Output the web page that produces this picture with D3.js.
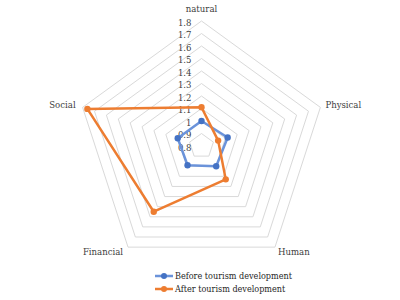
<!DOCTYPE html>
<html>
<head>
<meta charset="utf-8">
<script src="https://cdn.jsdelivr.net/npm/d3@7"></script>
<style>
  body { margin: 0; background: #fff; }
</style>
</head>
<body>
<svg id="chart" width="400" height="300"></svg>
<script>
// chart data
var axes = ["natural", "Physical", "Human", "Financial", "Social"];
var before = [1.0, 1.02, 1.0, 0.99, 1.0];
var after = [1.11, 0.94, 1.13, 1.45, 1.76];
var ticks = [0.8, 0.9, 1, 1.1, 1.2, 1.3, 1.4, 1.5, 1.6, 1.7, 1.8];
var seriesNames = ["Before tourism development", "After tourism development"];

var FONT = "'DejaVu Serif Condensed', 'DejaVu Serif'";
var cx = 201.5, cy = 146, R = 125;
var svg = d3.select("#chart")
    .attr("font-family", FONT);

var r = d3.scaleLinear().domain([0.8, 1.8]).range([0, R]);
var angle = d3.scalePoint().domain(axes.concat(["_end"])).range([0, 2 * Math.PI]);

function pt(axis, v) {
    var a = angle(axis);
    return [cx + r(v) * Math.sin(a), cy - r(v) * Math.cos(a)];
}

var g = svg.append("g");

// grid rings
g.selectAll(".ring")
    .data(ticks.slice(1))
    .enter().append("path")
    .attr("class", "ring")
    .attr("fill", "none")
    .attr("stroke", "#d9d9d9")
    .attr("stroke-width", 1)
    .attr("d", function (t) {
        return d3.line()(axes.map(function (a) { return pt(a, t); })) + "Z";
    });

// tick labels
g.selectAll(".tick")
    .data(ticks)
    .enter().append("text")
    .attr("x", cx - 10)
    .attr("y", function (t) { return cy - r(t) + 2; })
    .attr("text-anchor", "end")
    .attr("dominant-baseline", "middle")
    .attr("font-size", "9.5px")
    .attr("fill", "#404040")
    .text(function (t) { return t; });

// category labels
var labelPos = {
    "natural": { dx: 0, dy: -12, anchor: "middle" },
    "Physical": { dx: 5, dy: -2, anchor: "start" },
    "Human": { dx: 3, dy: 5, anchor: "start" },
    "Financial": { dx: -5, dy: 5, anchor: "end" },
    "Social": { dx: -7, dy: -2, anchor: "end" }
};
g.selectAll(".cat")
    .data(axes)
    .enter().append("text")
    .attr("x", function (a) { return pt(a, 1.8)[0] + labelPos[a].dx; })
    .attr("y", function (a) { return pt(a, 1.8)[1] + labelPos[a].dy; })
    .attr("text-anchor", function (a) { return labelPos[a].anchor; })
    .attr("dominant-baseline", "middle")
    .attr("font-size", "9.5px")
    .attr("fill", "#404040")
    .text(function (a) { return a; });

// series
var series = [
    { name: seriesNames[0], values: before, line: "#6b93da", marker: "#4472C4" },
    { name: seriesNames[1], values: after, line: "#ED7D31", marker: "#ED7D31" }
];

series.forEach(function (s) {
    var pts = axes.map(function (a, i) { return pt(a, s.values[i]); });
    g.append("path")
        .attr("fill", "none")
        .attr("stroke", s.line)
        .attr("stroke-width", 2.5)
        .attr("stroke-linejoin", "round")
        .attr("d", d3.line()(pts) + "Z");
    g.selectAll(null)
        .data(pts)
        .enter().append("circle")
        .attr("cx", function (d) { return d[0]; })
        .attr("cy", function (d) { return d[1]; })
        .attr("r", 3.2)
        .attr("fill", s.marker);
});

// legend
var legend = svg.append("g").attr("transform", "translate(155,276)");
series.forEach(function (s, i) {
    var row = legend.append("g").attr("transform", "translate(0," + (i * 13) + ")");
    row.append("line")
        .attr("x1", 0).attr("x2", 18)
        .attr("y1", 0).attr("y2", 0)
        .attr("stroke", s.line)
        .attr("stroke-width", 2.5);
    row.append("circle")
        .attr("cx", 9).attr("cy", 0).attr("r", 3)
        .attr("fill", s.marker);
    row.append("text")
        .attr("x", 20).attr("y", 0)
        .attr("dominant-baseline", "middle")
        .attr("font-size", "9px")
        .attr("fill", "#262626")
        .text(s.name);
});
</script>
</body>
</html>
